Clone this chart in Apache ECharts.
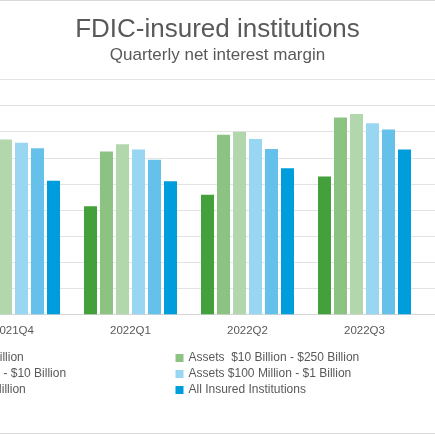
<!DOCTYPE html>
<html>
<head>
<meta charset="utf-8">
<script src="https://cdn.jsdelivr.net/npm/echarts@6/dist/echarts.min.js"></script>
<style>
  html, body { margin: 0; padding: 0; background: #fff; }
  #report { width: 435px; height: 435px; }
</style>
</head>
<body>
<div id="report"></div>
<script>
// data
var categories = ['2021Q4', '2022Q1', '2022Q2', '2022Q3'];
var seriesNames = [
  'Assets > $250 Billion',
  'Assets  $10 Billion - $250 Billion',
  'Assets $1 Billion - $10 Billion',
  'Assets $100 Million - $1 Billion',
  'Assets < $100 Million',
  'All Insured Institutions'
];
var over250B   = [2.20, 2.07, 2.29, 2.64];
var b10to250B  = [3.20, 3.12, 3.44, 3.77];
var b1to10B    = [3.35, 3.26, 3.50, 3.84];
var m100to1B   = [3.29, 3.16, 3.36, 3.66];
var under100M  = [3.18, 2.96, 3.17, 3.54];
var allInsured = [2.56, 2.55, 2.80, 3.16];
var yTicks = [0, 0.5, 1, 1.5, 2, 2.5, 3, 3.5, 4, 4.5];

var colors = ['#43a03a', '#8cc383', '#b2d7ad', '#99d6f2', '#66c1ea', '#009ddc'];
var values = [over250B, b10to250B, b1to10B, m100to1B, under100M, allInsured];
var font = 'Liberation Sans';

var myChart = echarts.init(document.getElementById('report'));

var series = seriesNames.map(function (name, i) {
  return {
    name: name,
    type: 'bar',
    xAxisIndex: 0,
    yAxisIndex: 0,
    barWidth: 13,
    barGap: (3 / 13 * 100) + '%',
    itemStyle: { color: colors[i] },
    data: values[i]
  };
});

var legendText = { fontFamily: font, fontSize: 12, color: '#595959', lineHeight: 16 };

var option = {
  animation: false,
  color: colors,
  title: {
    text: 'FDIC-insured institutions',
    subtext: 'Quarterly net interest margin',
    left: 'center',
    top: 12,
    itemGap: 4,
    textStyle: { fontFamily: font, fontSize: 26, fontWeight: 'normal', color: '#595959' },
    subtextStyle: { fontFamily: font, fontSize: 17, color: '#595959' }
  },
  legend: [
    {
      orient: 'vertical',
      left: -101,
      top: 350,
      padding: 0,
      itemWidth: 8,
      itemHeight: 8,
      itemGap: 0,
      icon: 'rect',
      textStyle: legendText,
      data: [seriesNames[0], seriesNames[2], seriesNames[4]]
    },
    {
      orient: 'vertical',
      left: 175.5,
      top: 350,
      padding: 0,
      itemWidth: 8,
      itemHeight: 8,
      itemGap: 0,
      icon: 'rect',
      textStyle: legendText,
      data: [seriesNames[1], seriesNames[3], seriesNames[5]]
    }
  ],
  grid: [
    { left: -45, right: 12, top: 79.5, bottom: 120.7, outerBoundsMode: 'none' },
    { left: -45, right: 0, top: 79.5, bottom: 120.7, outerBoundsMode: 'none' }
  ],
  xAxis: [
    {
      type: 'category',
      gridIndex: 0,
      data: categories,
      axisLine: { show: false },
      axisTick: { show: false },
      axisLabel: { fontFamily: font, fontSize: 11.5, color: '#595959', margin: 11 }
    },
    {
      type: 'category',
      gridIndex: 1,
      data: [''],
      axisLine: { show: true, lineStyle: { color: '#d4d4d4', width: 1 } },
      axisTick: { show: false },
      axisLabel: { show: false }
    }
  ],
  yAxis: [
    {
      type: 'value',
      gridIndex: 0,
      min: yTicks[0],
      max: yTicks[yTicks.length - 1],
      interval: 0.5,
      axisLabel: { show: false },
      axisLine: { show: false },
      axisTick: { show: false },
      splitLine: { show: false }
    },
    {
      type: 'value',
      gridIndex: 1,
      min: yTicks[0],
      max: yTicks[yTicks.length - 1],
      interval: 0.5,
      axisLabel: { show: false },
      axisLine: { show: false },
      axisTick: { show: false },
      splitLine: { show: true, lineStyle: { color: '#e3e3e3', width: 1 } }
    }
  ],
  graphic: [
    { type: 'line', shape: { x1: 0, y1: 0.5, x2: 435, y2: 0.5 }, style: { stroke: '#d9d9d9', lineWidth: 1 } },
    { type: 'line', shape: { x1: 0, y1: 433.5, x2: 435, y2: 433.5 }, style: { stroke: '#d9d9d9', lineWidth: 1 } }
  ],
  series: series
};

myChart.setOption(option);
</script>
</body>
</html>
